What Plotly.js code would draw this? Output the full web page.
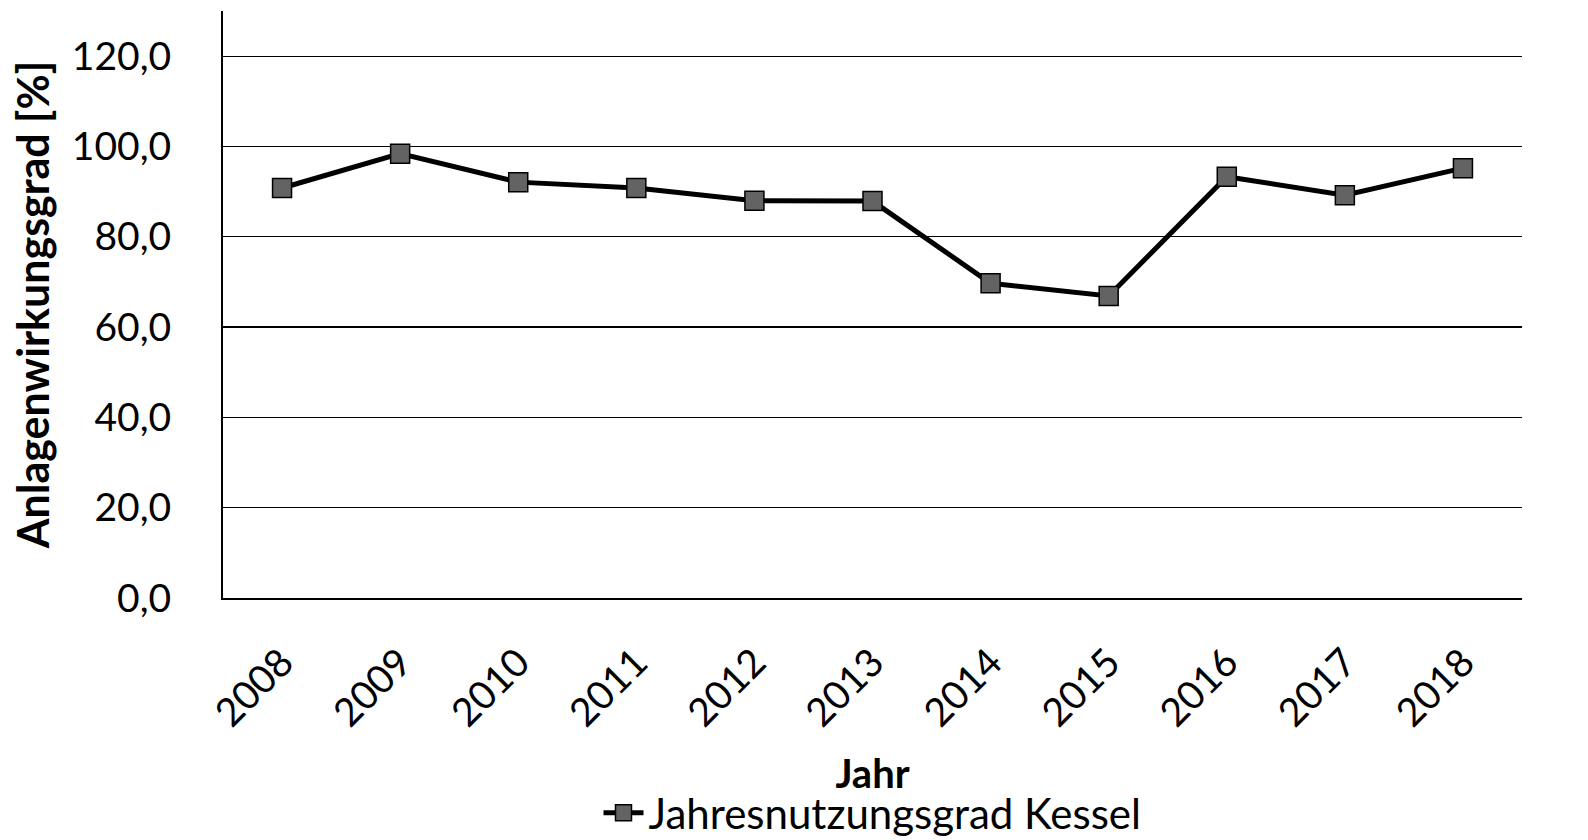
<!DOCTYPE html>
<html>
<head>
<meta charset="utf-8">
<script src="https://cdn.plot.ly/plotly-3.0.1.min.js"></script>
<style>
  html, body { margin: 0; padding: 0; background: #ffffff; }
  #chart { width: 1588px; height: 840px; }
</style>
</head>
<body>
<div id="chart"></div>
<script>
const years = ['2008', '2009', '2010', '2011', '2012', '2013', '2014', '2015', '2016', '2017', '2018'];
const efficiency = [90.8, 98.4, 92.1, 90.8, 88.0, 87.9, 69.7, 66.9, 93.3, 89.2, 95.2];
const seriesName = 'Jahresnutzungsgrad Kessel';
const labelText = '95,2';

const FONT = 'Lato, "Open Sans", sans-serif';

const trace = {
  x: years,
  y: efficiency,
  name: seriesName,
  type: 'scatter',
  mode: 'lines+markers',
  line: { color: '#000000', width: 5 },
  marker: { symbol: 'square', size: 19, color: '#636363', line: { color: '#000000', width: 1.5 } },
  showlegend: true
};

const layout = {
  width: 1588,
  height: 840,
  paper_bgcolor: '#ffffff',
  plot_bgcolor: '#ffffff',
  font: { family: FONT, size: 39, color: '#000000' },
  separators: ', ',
  margin: { l: 223, r: 66, t: 11, b: 242, autoexpand: false },
  xaxis: {
    type: 'category',
    range: [-0.5, 10.5],
    tickangle: -45,
    showgrid: false,
    showline: true,
    linecolor: '#000000',
    linewidth: 2,
    ticks: '',
    ticklabelstandoff: 24,
    tickfont: { family: FONT, size: 39, color: '#000000' },
    title: { text: '<b>Jahr</b>', font: { family: FONT, size: 40, color: '#000000' }, standoff: 26 },
    zeroline: false,
    automargin: false,
    fixedrange: true
  },
  yaxis: {
    range: [0, 130],
    dtick: 20,
    tick0: 0,
    tickformat: '.1f',
    showgrid: true,
    gridcolor: '#000000',
    gridwidth: 1.2,
    showline: true,
    linecolor: '#000000',
    linewidth: 2,
    ticks: '',
    ticklabelstandoff: 42,
    tickfont: { family: FONT, size: 39, color: '#000000' },
    title: { text: '<b>Anlagenwirkungsgrad [%]</b>', font: { family: FONT, size: 43, color: '#000000' }, standoff: 9 },
    zeroline: false,
    automargin: false,
    fixedrange: true
  },
  legend: {
    orientation: 'h',
    x: 0.5,
    xanchor: 'center',
    y: -0.366,
    yanchor: 'middle',
    font: { family: FONT, size: 42, color: '#000000' },
    itemwidth: 40,
    bgcolor: 'rgba(0,0,0,0)'
  },
  annotations: [{
    x: years[years.length - 1],
    y: efficiency[efficiency.length - 1],
    xref: 'x',
    yref: 'y',
    text: labelText,
    showarrow: false,
    xanchor: 'left',
    yanchor: 'middle',
    xshift: 56,
    yshift: -31,
    font: { family: FONT, size: 39, color: '#000000' }
  }],
  showlegend: true
};

Plotly.newPlot('chart', [trace], layout, { displayModeBar: false, staticPlot: true });
</script>
</body>
</html>
